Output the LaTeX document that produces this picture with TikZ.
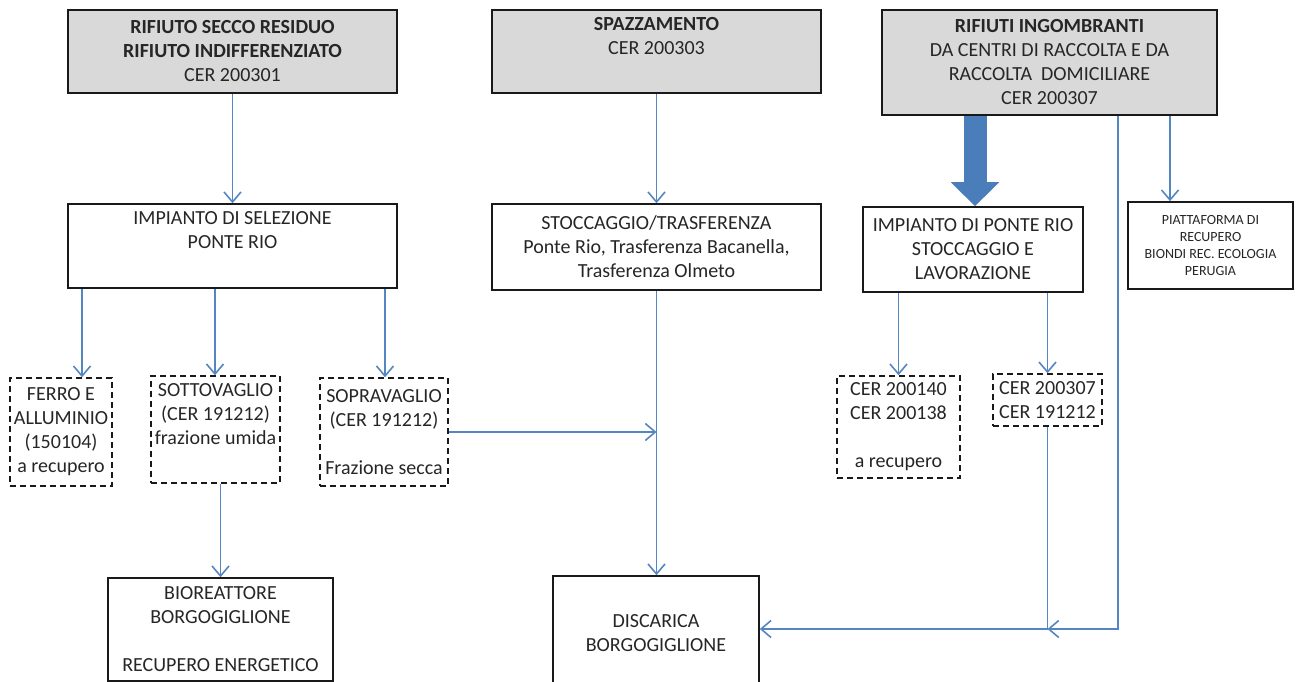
\documentclass[tikz,border=0pt]{standalone}
\usepackage{fontspec}
\setmainfont{Carlito}
\usetikzlibrary{arrows.meta}
\definecolor{lnblue}{HTML}{5586C4}
\definecolor{fatblue}{HTML}{4A7EBB}
\definecolor{boxgray}{HTML}{D9D9D9}
\definecolor{txt}{HTML}{262626}
\begin{document}
\begin{tikzpicture}[x=1pt,y=-1pt,
  every node/.style={inner sep=0pt, align=center, text=txt, font=\fontsize{20}{24}\selectfont},
  gbox/.style={draw=black!90, line width=1.6pt, fill=boxgray, rectangle},
  wbox/.style={draw=black!90, line width=1.6pt, fill=white, rectangle},
  dbox/.style={draw=black!90, line width=1.5pt, dash pattern=on 6pt off 4pt, rectangle},
  conn/.style={draw=lnblue, line width=1.6pt, -{Straight Barb[length=10pt,width=17pt]}},
  fat/.style={draw=fatblue, line width=23pt, -{Triangle[length=24pt,width=47pt]}}
]
\useasboundingbox (0,0) rectangle (1296,682);
% top row
\node[gbox, minimum width=329, minimum height=83] (b1) at (232.5,51.5)
  {\textbf{RIFIUTO SECCO RESIDUO}\\\textbf{RIFIUTO INDIFFERENZIATO}\\CER 200301};
\node[gbox, minimum width=329, minimum height=83] (b2) at (656.5,51.5)
  {\textbf{SPAZZAMENTO}\\CER 200303\\\strut};
\node[gbox, minimum width=335, minimum height=105] (b3) at (1049.5,62.5)
  {\textbf{RIFIUTI INGOMBRANTI}\\DA CENTRI DI RACCOLTA E DA\\RACCOLTA\ \ DOMICILIARE\\CER 200307};
% second row
\node[wbox, minimum width=329, minimum height=84] (sel) at (232.5,246)
  {IMPIANTO DI SELEZIONE\\PONTE RIO\\\strut};
\node[wbox, minimum width=329, minimum height=86] (sto) at (656.5,247)
  {STOCCAGGIO/TRASFERENZA\\Ponte Rio, Trasferenza Bacanella,\\Trasferenza Olmeto};
\node[wbox, minimum width=220, minimum height=85] (imp) at (973,249.5)
  {IMPIANTO DI PONTE RIO\\STOCCAGGIO E\\LAVORAZIONE};
\node[wbox, minimum width=165, minimum height=87, font=\fontsize{14}{17}\selectfont] (piat) at (1210.5,245.5)
  {PIATTAFORMA DI\\RECUPERO\\BIONDI REC. ECOLOGIA\\PERUGIA};
% third row (dashed)
\node[dbox, minimum width=102, minimum height=108] (fer) at (61,432)
  {FERRO E\\ALLUMINIO\\(150104)\\a recupero};
\node[dbox, minimum width=129, minimum height=107] (sot) at (215.5,429.5)
  {SOTTOVAGLIO\\(CER 191212)\\frazione umida\\\strut};
\node[dbox, minimum width=128, minimum height=108] (sop) at (384,432)
  {SOPRAVAGLIO\\(CER 191212)\\\strut\\Frazione secca};
\node[dbox, minimum width=123, minimum height=102] (cer1) at (898.5,427)
  {CER 200140\\CER 200138\\\strut\\a recupero};
\node[dbox, minimum width=109, minimum height=52] (cer2) at (1047.5,400)
  {CER 200307\\CER 191212};
% bottom row
\node[wbox, minimum width=225, minimum height=103] (bio) at (220.5,629.5)
  {BIOREATTORE\\BORGOGIGLIONE\\\strut\\RECUPERO ENERGETICO};
\node[wbox, minimum width=206, minimum height=114] (dis) at (656,633)
  {DISCARICA\\BORGOGIGLIONE};
% helper coordinates
\coordinate (xf) at (82,0);
\coordinate (xs) at (215,0);
\coordinate (xo) at (385,0);
\coordinate (xfat) at (975,0);
\coordinate (xp) at (1170,0);
\coordinate (c3) at (1118,629);
\coordinate (j) at (1047.5,629);
% connectors
\draw[conn] (b1.south) -- (sel.north);
\draw[conn] (b2.south) -- (sto.north);
\draw[fat] (b3.south -| xfat) -- (imp.north -| xfat);
\draw[conn] (b3.south -| xp) -- (piat.north -| xp);
\draw[conn] (sel.south -| xf) -- (fer.north -| xf);
\draw[conn] (sel.south -| xs) -- (sot.north -| xs);
\draw[conn] (sel.south -| xo) -- (sop.north -| xo);
\draw[conn] (sot.south -| bio.north) -- (bio.north);
\draw[conn] (sop.east) -- (sop.east -| sto.south);
\draw[conn] (sto.south) -- (sto.south |- dis.north);
\draw[conn] (imp.south -| cer1.north) -- (cer1.north);
\draw[conn] (imp.south -| cer2.north) -- (cer2.north);
\draw[conn] (b3.south -| c3) -- (c3) -- (j);
\draw[conn] (cer2.south) -- (j) -- (dis.east |- j);
\end{tikzpicture}
\end{document}
